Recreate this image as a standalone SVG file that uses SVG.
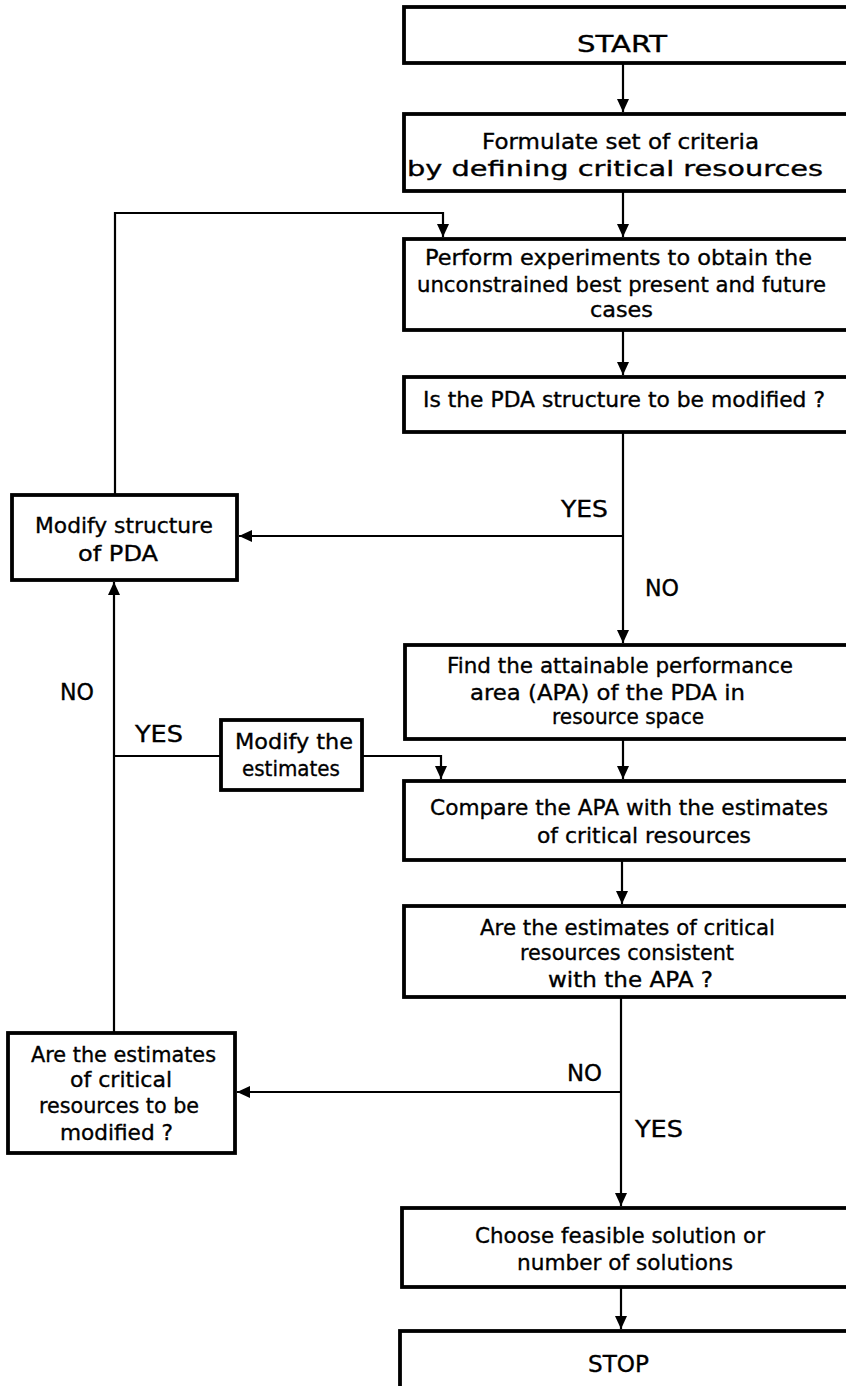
<svg xmlns="http://www.w3.org/2000/svg" width="846" height="1386" viewBox="0 0 846 1386">
<style>
.box{fill:#fff;stroke:#000;stroke-width:3.8}
.c{fill:none;stroke:#000;stroke-width:2.2}
text{font-family:"DejaVu Sans","Liberation Sans",sans-serif;font-size:21px;fill:#000;stroke:#000;stroke-width:0.35}
.m{font-size:22px}
.lg{font-size:23px}
</style>
<defs>
<marker id="ah" markerUnits="userSpaceOnUse" markerWidth="14" markerHeight="12" refX="13" refY="6" orient="auto">
<path d="M0,0 L13,6 L0,12 z" fill="#000"/>
</marker>
</defs>
<rect width="846" height="1386" fill="#fff"/>
<g id="connectors">
<path class="c" d="M623,63 V112" marker-end="url(#ah)"/>
<path class="c" d="M623,191 V237" marker-end="url(#ah)"/>
<path class="c" d="M623,330 V375" marker-end="url(#ah)"/>
<path class="c" d="M623,432 V643" marker-end="url(#ah)"/>
<path class="c" d="M623,536 H239" marker-end="url(#ah)"/>
<path class="c" d="M115,495 V213 H443 V237" marker-end="url(#ah)"/>
<path class="c" d="M623,739 V779" marker-end="url(#ah)"/>
<path class="c" d="M114,1033 V582" marker-end="url(#ah)"/>
<path class="c" d="M114,756 H221"/>
<path class="c" d="M362,756 H441 V779" marker-end="url(#ah)"/>
<path class="c" d="M622,860 V904" marker-end="url(#ah)"/>
<path class="c" d="M621,997 V1206" marker-end="url(#ah)"/>
<path class="c" d="M621,1092 H237" marker-end="url(#ah)"/>
<path class="c" d="M621,1287 V1329" marker-end="url(#ah)"/>
<text class="lg" x="561" y="517" textLength="47" lengthAdjust="spacingAndGlyphs">YES</text>
<text class="lg" x="645" y="596" textLength="34" lengthAdjust="spacingAndGlyphs">NO</text>
<text class="lg" x="60" y="700" textLength="34" lengthAdjust="spacingAndGlyphs">NO</text>
<text class="lg" x="135" y="742" textLength="48" lengthAdjust="spacingAndGlyphs">YES</text>
<text class="lg" x="567" y="1081" textLength="35" lengthAdjust="spacingAndGlyphs">NO</text>
<text class="lg" x="635" y="1137" textLength="48" lengthAdjust="spacingAndGlyphs">YES</text>
</g>
<g id="start">
<rect class="box" x="404" y="7" width="450" height="56"/>
<text class="lg" x="577" y="52" textLength="90" lengthAdjust="spacingAndGlyphs">START</text>
</g>
<g id="formulate">
<rect class="box" x="404" y="114" width="450" height="77"/>
<text x="482" y="149" textLength="277" lengthAdjust="spacingAndGlyphs">Formulate set of criteria</text>
<text x="407" y="176" textLength="416" lengthAdjust="spacingAndGlyphs">by defining critical resources</text>
</g>
<g id="perform">
<rect class="box" x="404" y="239" width="450" height="91"/>
<text x="425" y="265" textLength="387" lengthAdjust="spacingAndGlyphs">Perform experiments to obtain the</text>
<text x="417" y="292" textLength="409" lengthAdjust="spacingAndGlyphs">unconstrained best present and future</text>
<text x="590" y="317" textLength="63" lengthAdjust="spacingAndGlyphs">cases</text>
</g>
<g id="is-pda">
<rect class="box" x="404" y="377" width="450" height="55"/>
<text x="423" y="407" textLength="402" lengthAdjust="spacingAndGlyphs">Is the PDA structure to be modified ?</text>
</g>
<g id="modify-structure">
<rect class="box" x="12" y="495" width="225" height="85"/>
<text class="m" x="35" y="533" textLength="178" lengthAdjust="spacingAndGlyphs">Modify structure</text>
<text class="m" x="78" y="561" textLength="80" lengthAdjust="spacingAndGlyphs">of PDA</text>
</g>
<g id="find-apa">
<rect class="box" x="405" y="645" width="450" height="94"/>
<text class="m" x="447" y="673" textLength="346" lengthAdjust="spacingAndGlyphs">Find the attainable performance</text>
<text class="m" x="470" y="700" textLength="275" lengthAdjust="spacingAndGlyphs">area (APA) of the PDA in</text>
<text class="m" x="552" y="724" textLength="152" lengthAdjust="spacingAndGlyphs">resource space</text>
</g>
<g id="modify-estimates">
<rect class="box" x="221" y="720" width="141" height="70"/>
<text class="m" x="235" y="749" textLength="118" lengthAdjust="spacingAndGlyphs">Modify the</text>
<text class="m" x="242" y="776" textLength="98" lengthAdjust="spacingAndGlyphs">estimates</text>
</g>
<g id="compare">
<rect class="box" x="404" y="781" width="450" height="79"/>
<text class="m" x="430" y="815" textLength="398" lengthAdjust="spacingAndGlyphs">Compare the APA with the estimates</text>
<text class="m" x="537" y="843" textLength="214" lengthAdjust="spacingAndGlyphs">of critical resources</text>
</g>
<g id="consistent">
<rect class="box" x="404" y="906" width="450" height="91"/>
<text class="m" x="480" y="935" textLength="295" lengthAdjust="spacingAndGlyphs">Are the estimates of critical</text>
<text class="m" x="520" y="960" textLength="214" lengthAdjust="spacingAndGlyphs">resources consistent</text>
<text class="m" x="548" y="987" textLength="165" lengthAdjust="spacingAndGlyphs">with the APA ?</text>
</g>
<g id="estimates-modified">
<rect class="box" x="8" y="1033" width="227" height="120"/>
<text x="31" y="1062" textLength="185" lengthAdjust="spacingAndGlyphs">Are the estimates</text>
<text x="70" y="1087" textLength="102" lengthAdjust="spacingAndGlyphs">of critical</text>
<text x="39" y="1113" textLength="160" lengthAdjust="spacingAndGlyphs">resources to be</text>
<text x="60" y="1140" textLength="113" lengthAdjust="spacingAndGlyphs">modified ?</text>
</g>
<g id="choose">
<rect class="box" x="402" y="1208" width="452" height="79"/>
<text class="m" x="475" y="1243" textLength="290" lengthAdjust="spacingAndGlyphs">Choose feasible solution or</text>
<text class="m" x="517" y="1270" textLength="216" lengthAdjust="spacingAndGlyphs">number of solutions</text>
</g>
<g id="stop">
<rect class="box" x="400" y="1331" width="454" height="80"/>
<text class="lg" x="588" y="1372" textLength="61" lengthAdjust="spacingAndGlyphs">STOP</text>
</g>
</svg>
